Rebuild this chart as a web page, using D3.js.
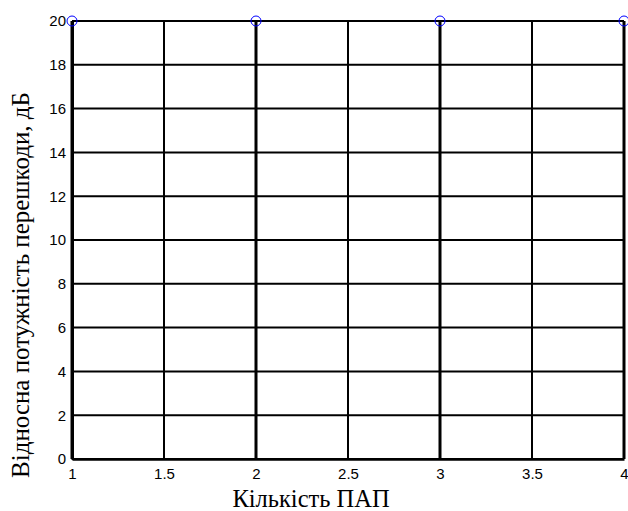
<!DOCTYPE html>
<html>
<head>
<meta charset="utf-8">
<script src="https://cdn.jsdelivr.net/npm/d3@7"></script>
<style>
  html, body { margin: 0; padding: 0; background: #fff; }
  svg { display: block; }
</style>
</head>
<body>
<svg id="chart" width="628" height="511"></svg>
<script>
// Relative interference power versus number of receivers
const counts = [1, 2, 3, 4];
const powerDb = [20, 20, 20, 20];
const xTicks = [1, 1.5, 2, 2.5, 3, 3.5, 4];
const yTicks = [0, 2, 4, 6, 8, 10, 12, 14, 16, 18, 20];

const svg = d3.select("#chart");
const margin = { left: 72, right: 4, top: 21, bottom: 52 };
const W = 628, H = 511;
const sansFont = '"Liberation Sans", "Arial", sans-serif';
const serifFont = '"Liberation Serif", "Times New Roman", serif';

const x = d3.scaleLinear().domain([1, 4]).range([margin.left, W - margin.right]);
const y = d3.scaleLinear().domain([0, 20]).range([H - margin.bottom, margin.top]);

// horizontal grid
svg.append("g").selectAll("line").data(yTicks).join("line")
  .attr("x1", x(1)).attr("x2", x(4))
  .attr("y1", d => y(d)).attr("y2", d => y(d))
  .attr("stroke", "#000").attr("stroke-width", 2);

// vertical grid: integer lines heavier than half steps
svg.append("g").selectAll("line").data(xTicks).join("line")
  .attr("x1", d => x(d)).attr("x2", d => x(d))
  .attr("y1", y(0)).attr("y2", y(20))
  .attr("stroke", "#000")
  .attr("stroke-width", d => Number.isInteger(d) ? 3 : 2);

// axes
const xAxis = d3.axisBottom(x).tickValues(xTicks).tickSize(0).tickPadding(9)
  .tickFormat(d3.format("~g"));
const gx = svg.append("g").attr("transform", `translate(0,${y(0)})`).call(xAxis);
gx.select(".domain").attr("stroke", "#000").attr("stroke-width", 2.5);

const yAxis = d3.axisLeft(y).tickValues(yTicks).tickSize(0).tickPadding(6);
const gy = svg.append("g").attr("transform", `translate(${x(1)},0)`).call(yAxis);
gy.select(".domain").attr("stroke", "#000").attr("stroke-width", 3);

svg.selectAll(".tick text")
  .style("font-family", sansFont)
  .style("font-size", "15px")
  .attr("fill", "#000");

// data markers
svg.append("g").selectAll("circle").data(counts).join("circle")
  .attr("cx", (d) => x(d)).attr("cy", (d, i) => y(powerDb[i]))
  .attr("r", 5).attr("fill", "none")
  .attr("stroke", "#0000ff").attr("stroke-width", 1);

// axis titles
svg.append("text")
  .attr("x", 311).attr("y", 507)
  .attr("text-anchor", "middle")
  .style("font-family", serifFont)
  .style("font-size", "24.5px")
  .text("Кількість ПАП");

svg.append("text")
  .attr("transform", `translate(29,285) rotate(-90)`)
  .attr("text-anchor", "middle")
  .style("font-family", serifFont)
  .style("font-size", "25px")
  .text("Відносна потужність перешкоди, дБ");
</script>
</body>
</html>
